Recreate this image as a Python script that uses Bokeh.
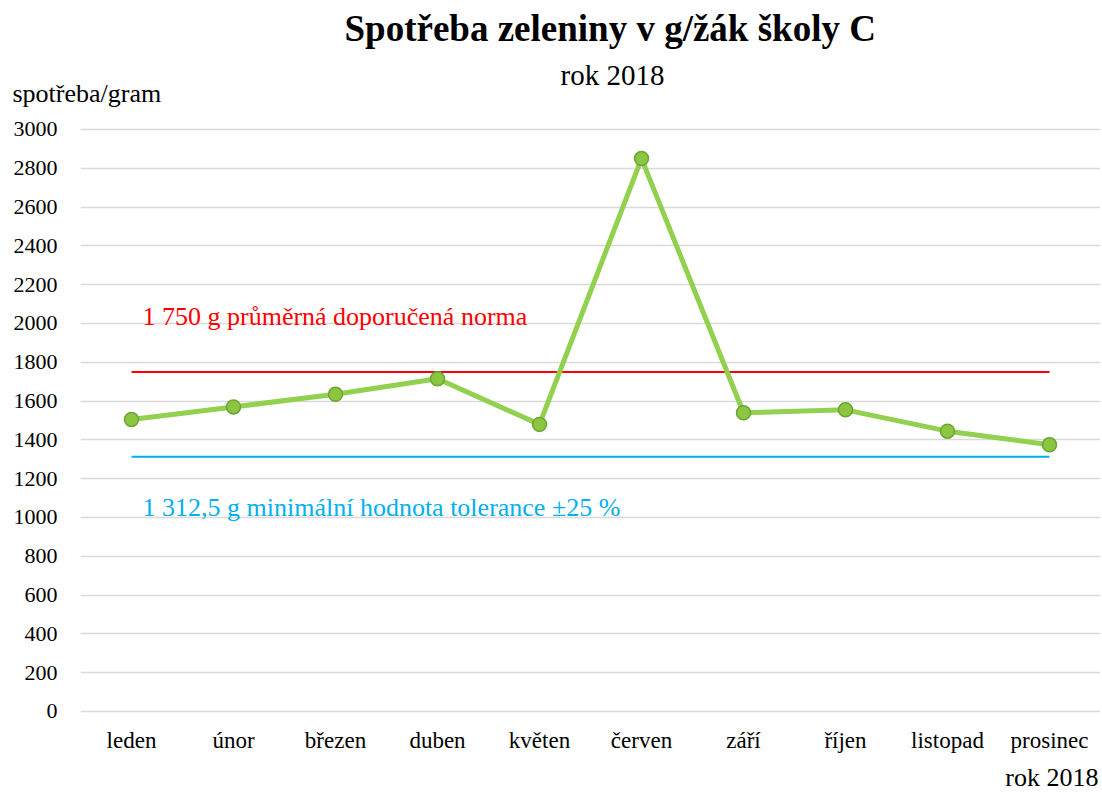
from bokeh.plotting import figure
from bokeh.models import Range1d, FixedTicker, Label, Title
from bokeh.embed import file_html
from bokeh.resources import INLINE

months = ["leden", "únor", "březen", "duben", "květen", "červen",
          "září", "říjen", "listopad", "prosinec"]
consumption = [1505, 1570, 1635, 1715, 1480, 2850, 1540, 1555, 1445, 1375]
norm_value = 1750
min_value = 1312.5
y_ticks = list(range(0, 3001, 200))

title_text = "Spotřeba zeleniny v g/žák školy C"
subtitle_text = "rok 2018"
y_title = "spotřeba/gram"
x_title = "rok 2018"
norm_label = "1 750 g průměrná doporučená norma"
min_label = "1 312,5 g minimální hodnota tolerance ±25 %"

FONT = "Liberation Serif"

p = figure(output_backend="svg", toolbar_location=None, title=None,
           frame_width=1020, frame_height=626,
           min_border_left=80, min_border_right=2,
           min_border_top=0, min_border_bottom=0,
           x_range=months, y_range=Range1d(-46.4, 3180.4),
           background_fill_color="white", border_fill_color="white")
p.outline_line_color = None
p.x_range.range_padding = 0

# header texts, stacked outward from the frame
p.add_layout(Title(text=y_title, text_font=FONT, text_font_size="26px",
                   text_font_style="normal", text_color="black",
                   align="left", offset=-68, vertical_align="top",
                   standoff=-29.8), "above")
p.add_layout(Title(text=subtitle_text, text_font=FONT, text_font_size="29px",
                   text_font_style="normal", text_color="black",
                   align="left", offset=480, vertical_align="bottom",
                   standoff=5), "above")
p.add_layout(Title(text=title_text, text_font=FONT, text_font_size="37px",
                   text_font_style="bold", text_color="black",
                   align="left", offset=264, vertical_align="bottom",
                   standoff=10.7), "above")

for ax in (p.xaxis, p.yaxis):
    ax.axis_line_color = None
    ax.major_tick_line_color = None
    ax.minor_tick_line_color = None
    ax.major_tick_out = 0
    ax.major_label_text_font = FONT
    ax.major_label_text_color = "black"
p.yaxis.ticker = FixedTicker(ticks=y_ticks)
p.xaxis.major_label_text_font_size = "23px"
p.yaxis.major_label_text_font_size = "22px"
p.xaxis.major_label_standoff = 7
p.yaxis.major_label_standoff = 23

# x-axis title at the bottom right, below the category labels
p.add_layout(Title(text=x_title, text_font=FONT, text_font_size="26px",
                   text_font_style="normal", text_color="black",
                   align="right", offset=2, vertical_align="bottom",
                   standoff=10), "below")

p.xgrid.grid_line_color = None
p.ygrid.ticker = FixedTicker(ticks=y_ticks)
p.ygrid.grid_line_color = "#d9d9d9"
p.ygrid.grid_line_width = 1.5

# reference lines
p.line(months, [norm_value] * len(months), line_color="#FF0000", line_width=2)
p.line(months, [min_value] * len(months), line_color="#00B0F0", line_width=2)

# data series
p.line(months, consumption, line_color="#92D050", line_width=5)
p.scatter(months, consumption, size=14, fill_color="#8CC640",
          line_color="#6AA536", line_width=1.5)

# first category centre in the categorical range's synthetic coordinates
first_cat = 0.5
p.add_layout(Label(x=first_cat, x_offset=11, y=2036, text=norm_label,
                   text_font=FONT, text_font_size="26px", text_color="#FF0000",
                   text_baseline="alphabetic"))
p.add_layout(Label(x=first_cat, x_offset=11, y=1050, text=min_label,
                   text_font=FONT, text_font_size="26px", text_color="#00B0F0",
                   text_baseline="alphabetic"))

open("out.html", "w").write(file_html(p, INLINE))
